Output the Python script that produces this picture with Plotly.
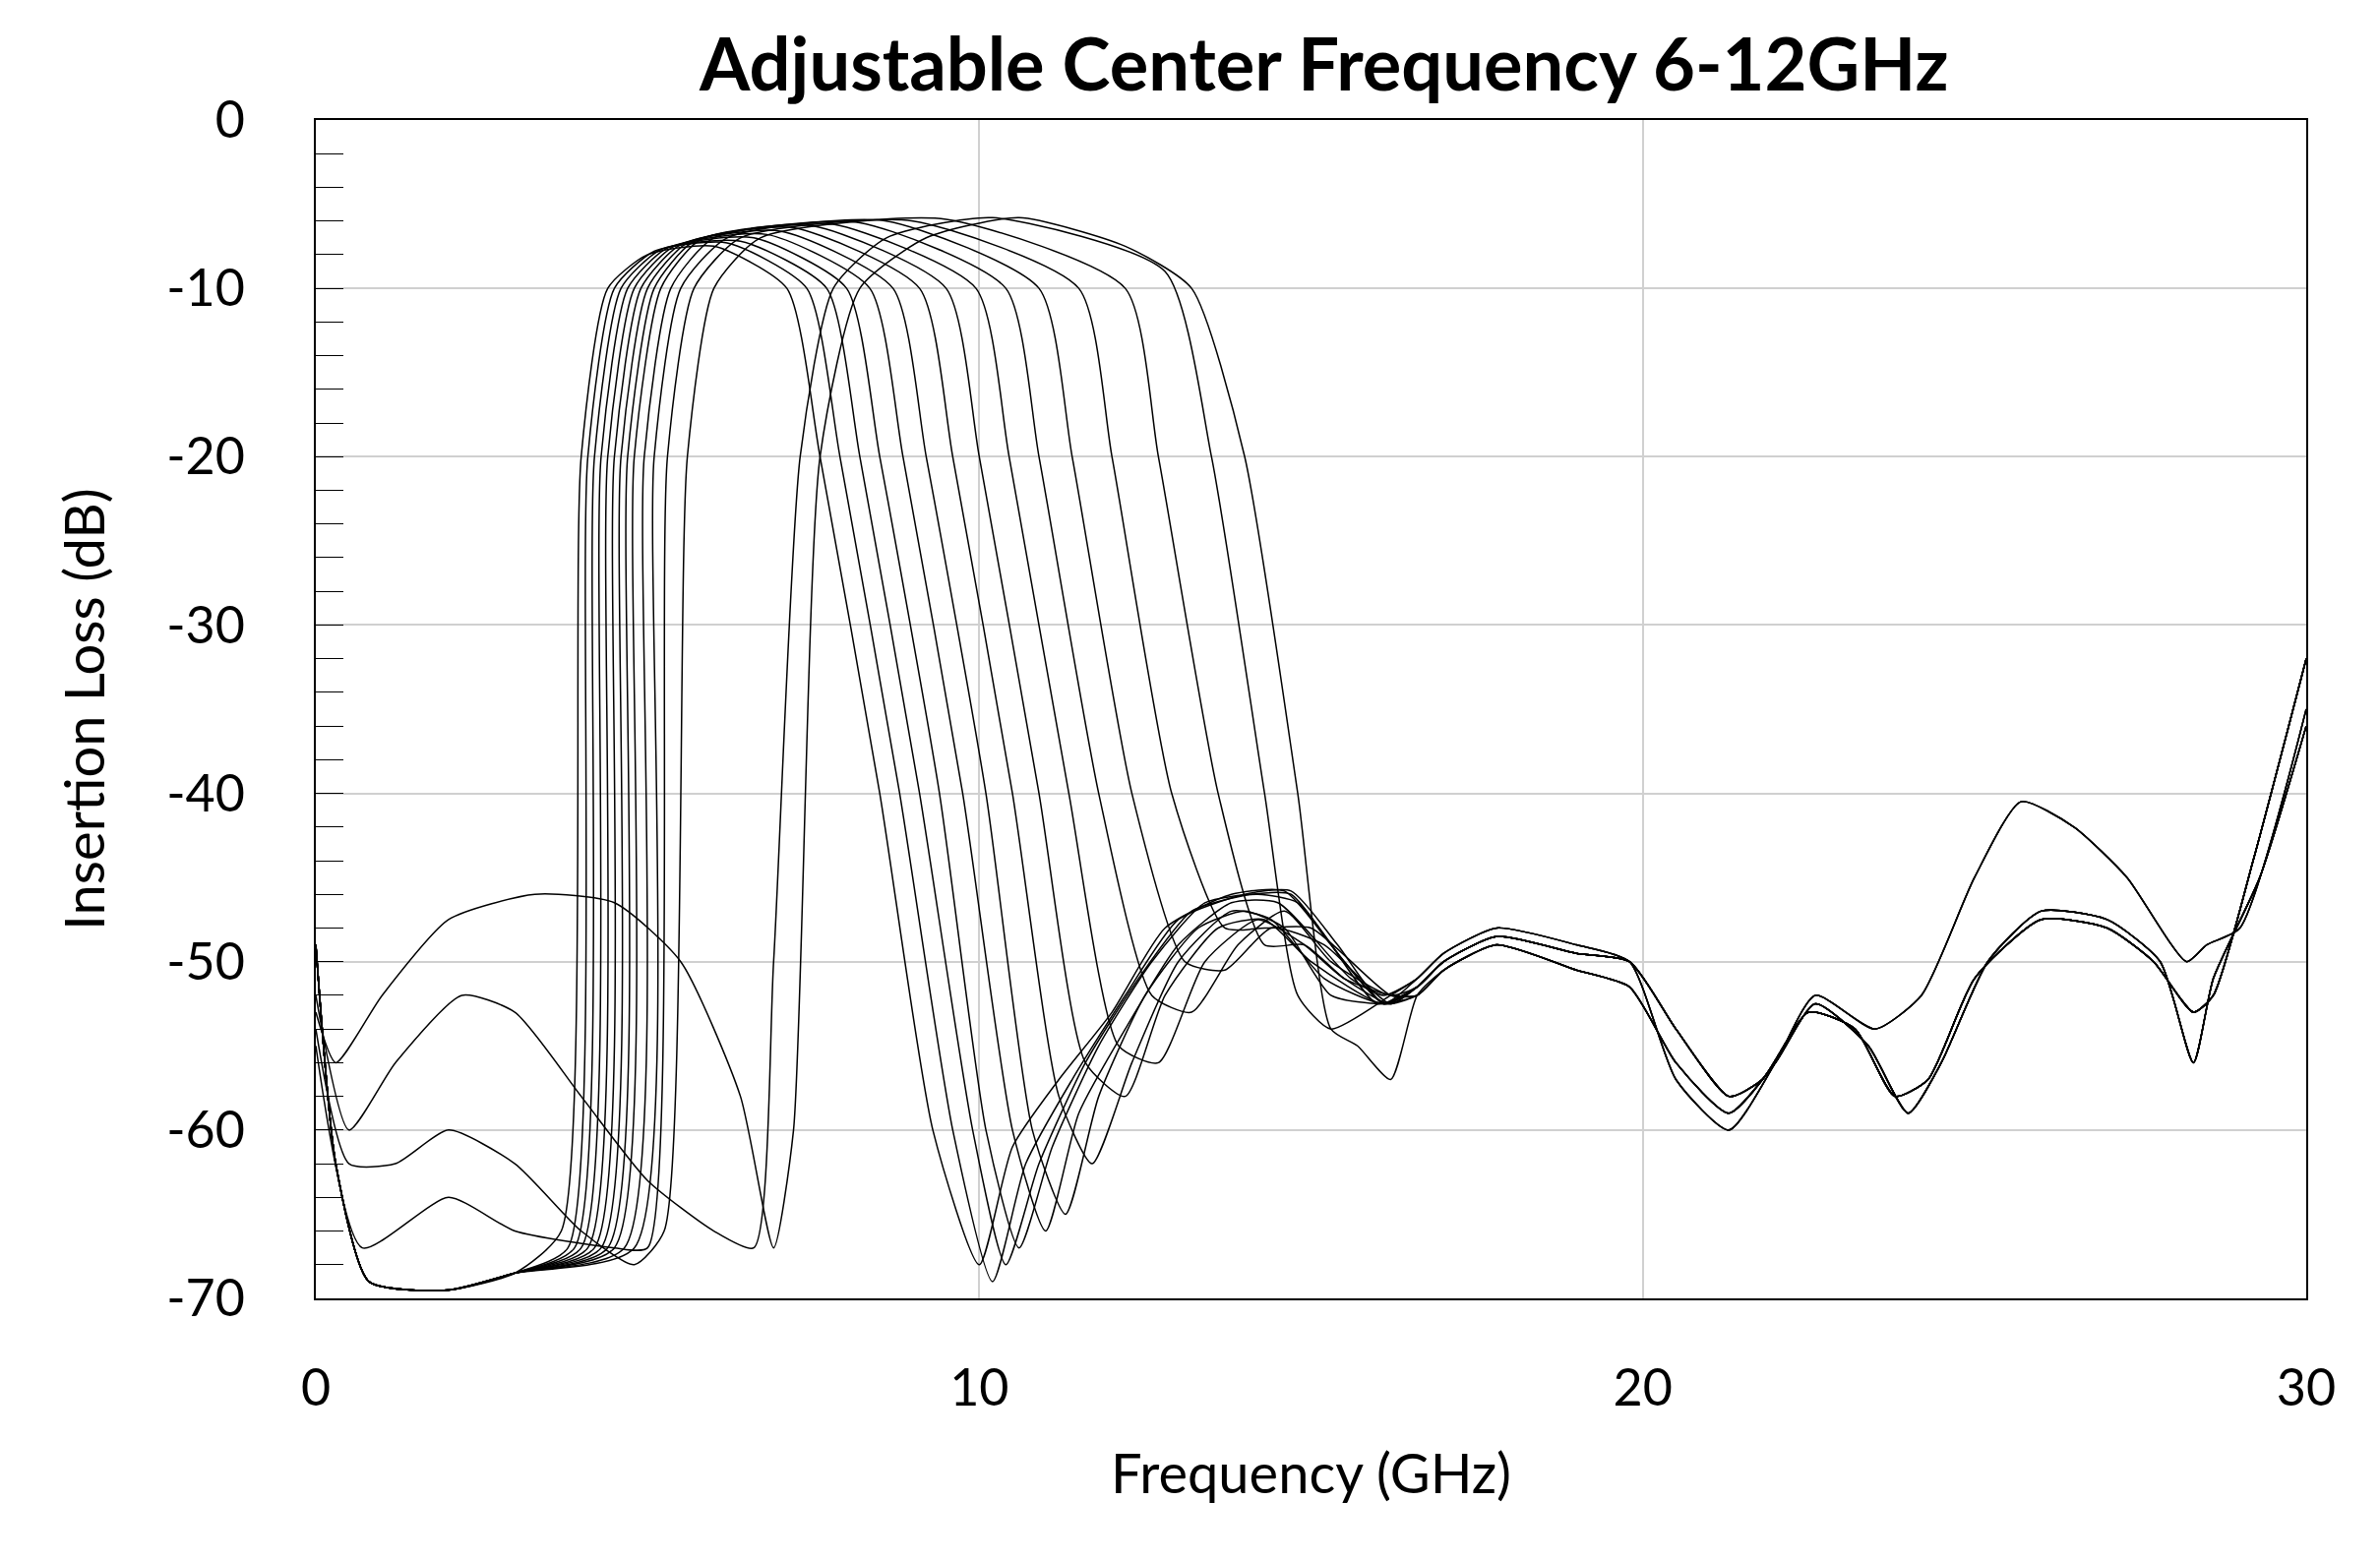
import plotly.graph_objects as go

# Shared stopband tails above 16 GHz (GHz, dB)
tail_a_x = [16.6, 17.0, 17.8, 19.0, 19.8, 20.5, 21.3, 21.8, 22.5, 23.2, 23.8, 24.3, 25.0, 26.0, 27.0, 27.7, 28.3, 28.6, 29.2, 30.0]
tail_a_y = [-51.5, -50, -48.5, -49.5, -50, -54, -58, -57, -53, -54, -58, -57, -51, -47.5, -48, -50, -53, -52, -44, -32]
tail_b_x = [16.6, 17.0, 17.8, 19.0, 19.8, 20.5, 21.3, 22.0, 22.6, 23.5, 24.2, 25.0, 25.7, 26.5, 27.3, 28.2, 28.5, 29.0, 30.0]
tail_b_y = [-51, -49.5, -48, -49, -50, -57, -60, -56, -52, -54, -52, -45, -40.5, -42, -45, -50, -49, -48, -35]
tail_c_x = [16.6, 17.0, 17.8, 19.0, 19.8, 20.5, 21.3, 22.0, 22.6, 23.4, 24.0, 24.5, 25.2, 26.0, 27.0, 27.8, 28.3, 28.6, 29.3, 30.0]
tail_c_y = [-52, -50.5, -49, -50.5, -51.5, -56, -59, -56, -52.5, -55, -59, -56, -50, -47, -47.5, -50, -56, -51, -45, -36]

low_x = [0, 0.3, 0.8, 2.0, 3.0]
low_y = [-49, -62, -69, -69.5, -68.5]

# Filter responses 0-16 GHz, one per tuning state
c1_x = low_x + [3.7, 4.0, 4.4, 5.0, 6.0, 7.1, 7.6, 8.5, 9.3, 10.0, 10.5, 11.2, 12.0, 12.8, 13.8, 14.6, 15.3, 16.0]
c1_y = low_y + [-66, -20, -10, -8, -7.5, -10, -20, -40, -60, -68, -61, -57, -53, -48, -46, -45.8, -49, -52.5]
c2_x = low_x + [3.8, 4.1, 4.5, 5.1, 6.2, 7.4, 7.9, 8.8, 9.6, 10.2, 10.7, 11.4, 12.2, 13.0, 14.0, 14.7, 15.4, 16.1]
c2_y = low_y + [-67, -20, -10, -7.8, -7.3, -10, -20, -40, -60, -69, -62, -57, -52, -47.5, -46, -45.8, -49, -52.5]
c3_x = low_x + [3.9, 4.2, 4.6, 5.2, 6.4, 7.7, 8.2, 9.1, 9.9, 10.4, 10.9, 11.6, 12.4, 13.2, 14.1, 14.7, 15.4, 16.1]
c3_y = low_y + [-67, -20, -10, -7.7, -7.2, -10, -20, -40, -60, -68, -62, -56, -51, -47, -46, -46, -49.5, -52.5]
c4_x = low_x + [4.0, 4.3, 4.7, 5.3, 6.6, 8.0, 8.5, 9.4, 10.1, 10.6, 11.1, 11.8, 12.6, 13.4, 14.2, 14.8, 15.5, 16.1]
c4_y = low_y + [-67, -20, -10, -7.6, -7.0, -10, -20, -40, -60, -67, -61, -55, -50, -46.5, -46, -46.5, -50, -52.5]
c5_x = low_x + [4.1, 4.4, 4.8, 5.4, 6.8, 8.35, 8.85, 9.75, 10.5, 11.0, 11.5, 12.2, 13.0, 13.8, 14.5, 15.6, 16.1]
c5_y = low_y + [-67, -20, -10, -7.5, -6.8, -10, -20, -40, -60, -66, -59, -54, -49, -46.5, -46.5, -51, -52]
c6_x = low_x + [4.2, 4.5, 4.9, 5.5, 7.0, 8.7, 9.2, 10.1, 10.8, 11.3, 11.8, 12.5, 13.3, 14.0, 14.6, 15.3, 16.1]
c6_y = low_y + [-67, -20, -10, -7.4, -6.6, -10, -20, -40, -60, -65, -58, -52, -48, -47, -48, -52, -52.5]
c7_x = low_x + [4.3, 4.6, 5.0, 5.6, 7.2, 9.1, 9.6, 10.5, 11.2, 11.7, 12.3, 13.0, 13.8, 14.4, 15.2, 16.1]
c7_y = low_y + [-67, -20, -10, -7.3, -6.4, -10, -20, -40, -58, -62, -56, -50, -47, -47.5, -51, -52.5]
c8_x = low_x + [4.4, 4.7, 5.1, 5.7, 7.5, 9.5, 10.0, 10.9, 11.6, 12.2, 12.8, 13.6, 14.3, 15.0, 16.1]
c8_y = low_y + [-67, -20, -10, -7.2, -6.3, -10, -20, -40, -56, -58, -52, -48, -47.5, -50, -52.5]
c9_x = low_x + [4.5, 4.8, 5.2, 5.8, 7.8, 9.95, 10.45, 11.35, 12.1, 12.7, 13.4, 14.2, 14.9, 15.5, 16.2]
c9_y = low_y + [-67, -20, -10, -7.1, -6.2, -10, -20, -40, -55, -56, -50, -47.5, -49, -51, -52]
c10_x = low_x + [4.65, 4.95, 5.35, 6.0, 8.2, 10.4, 10.9, 11.8, 12.6, 13.2, 13.9, 14.6, 15.3, 16.2]
c10_y = low_y + [-67, -20, -10, -7.0, -6.1, -10, -20, -40, -52, -53, -49, -47, -50, -52]
c11_x = low_x + [4.8, 5.1, 5.5, 6.2, 8.6, 10.9, 11.4, 12.3, 13.1, 13.7, 14.4, 15.2, 16.2]
c11_y = low_y + [-67, -20, -10, -7.0, -6.0, -10, -20, -40, -50, -50.5, -48, -49, -52.5]
c12_x = [0, 0.7, 2.0, 3.0, 4.5, 5.0, 5.3, 5.7, 6.4, 9.0, 11.5, 12.0, 12.9, 13.7, 14.3, 15.0, 16.2]
c12_y = [-55, -67, -64, -66, -67, -67, -20, -10, -7.0, -6.0, -10, -20, -40, -48, -48, -48, -52]
c13_x = [0, 0.5, 1.2, 2.0, 3.0, 4.0, 4.8, 5.25, 5.6, 6.0, 6.7, 9.5, 12.2, 12.7, 13.6, 14.3, 14.9, 15.5, 16.2]
c13_y = [-54, -62, -62, -60, -62, -66, -68, -66, -20, -10, -7.0, -5.9, -10, -20, -40, -49, -49, -51, -52.5]
c14_x = [0, 0.5, 1.2, 2.2, 3.0, 4.0, 5.0, 6.0, 6.6, 6.9, 7.3, 7.8, 8.6, 10.2, 12.8, 13.5, 14.3, 14.8, 15.3, 16.2]
c14_y = [-52, -60, -56, -52, -53, -58, -63, -66, -67, -50, -20, -10, -7.0, -5.8, -9, -20, -40, -52, -54, -52]
c15_x = [0, 0.3, 1.0, 2.0, 3.3, 4.5, 5.5, 6.4, 6.9, 7.2, 7.6, 8.2, 9.2, 10.6, 12.2, 13.2, 14.0, 14.8, 15.3, 15.7, 16.2]
c15_y = [-53, -56, -52, -47.5, -46, -46.5, -50, -58, -67, -60, -20, -10, -7.0, -5.8, -7.5, -10, -20, -40, -54, -55, -57]

y_ticks = [0, -10, -20, -30, -40, -50, -60, -70]
y_labels = ["0", "-10", "-20", "-30", "-40", "-50", "-60", "-70"]

curves = [
    (c1_x, c1_y, "a"), (c2_x, c2_y, "a"), (c3_x, c3_y, "c"), (c4_x, c4_y, "a"),
    (c5_x, c5_y, "b"), (c6_x, c6_y, "c"), (c7_x, c7_y, "a"), (c8_x, c8_y, "b"),
    (c9_x, c9_y, "c"), (c10_x, c10_y, "a"), (c11_x, c11_y, "a"), (c12_x, c12_y, "c"),
    (c13_x, c13_y, "a"), (c14_x, c14_y, "b"), (c15_x, c15_y, "c"),
]
tails = {"a": (tail_a_x, tail_a_y), "b": (tail_b_x, tail_b_y), "c": (tail_c_x, tail_c_y)}

fig = go.Figure()
for hx, hy, t in curves:
    tx, ty = tails[t]
    fig.add_trace(go.Scatter(x=hx + tx, y=hy + ty, mode="lines",
                             line=dict(color="black", width=1.5, shape="spline", smoothing=0.6),
                             showlegend=False, hoverinfo="skip"))

font = "Lato"
fig.update_layout(
    width=2419, height=1587,
    paper_bgcolor="white", plot_bgcolor="white",
    margin=dict(l=313, r=83, t=114, b=275),
    title=dict(text="<b>Adjustable Center Frequency 6-12GHz</b>", x=0.553, xanchor="center",
               y=0.98, yanchor="top", font=dict(family=font, size=74, color="black")),
    font=dict(family=font, color="black"),
)
fig.update_xaxes(range=[0, 30], dtick=10, showgrid=True, gridcolor="#d0d0d0", gridwidth=1.5,
                 showline=True, linecolor="black", linewidth=1.5, mirror=True, zeroline=False,
                 ticks="", tickfont=dict(size=52), ticklabelstandoff=45,
                 title=dict(text="Frequency (GHz)", font=dict(size=56), standoff=40))
fig.update_yaxes(range=[-70, 0], tickvals=y_ticks, ticktext=y_labels,
                 showgrid=True, gridcolor="#d0d0d0", gridwidth=1.5,
                 showline=True, linecolor="black", linewidth=1.5, mirror=True, zeroline=False,
                 ticks="inside", ticklen=28, tickcolor="black",
                 minor=dict(dtick=2, ticks="inside", ticklen=28, tickcolor="black", showgrid=False),
                 tickfont=dict(size=52), ticklabelstandoff=60,
                 title=dict(text="Insertion Loss (dB)", font=dict(size=56), standoff=45))

fig.write_html("out.html")
